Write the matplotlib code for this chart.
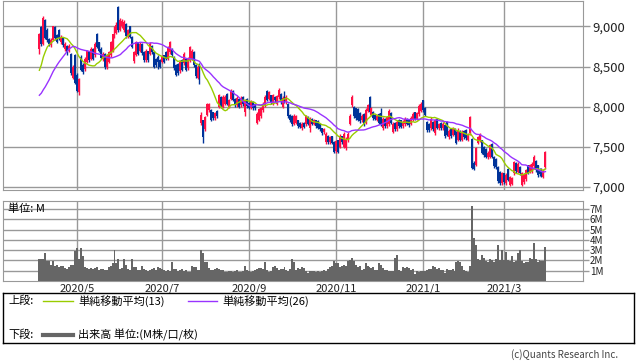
import numpy as np
import pandas as pd
import matplotlib
matplotlib.use('Agg')
import matplotlib.pyplot as plt

# 设置日文字体
plt.rcParams['font.family'] = ['Noto Sans CJK JP', 'DejaVu Sans']

# 日足数据 (2020/4/6 起的营业日)
open_ = [8720, 8990, 8780, 9080, 8960, 8840, 8770, 8830, 8990, 8890,
         8960, 8800, 8850, 8720, 8760, 8700, 8660, 8360, 8650, 8400,
         8180, 8620, 8520, 8470, 8560, 8690, 8600, 8720, 8640, 8900,
         8800, 8720, 8590, 8660, 8490, 8560, 8640, 8700, 8870, 8920,
         9240, 8960, 9000, 8950, 9030, 8870, 9000, 8870, 8570, 8650,
         8800, 8700, 8780, 8680, 8580, 8690, 8660, 8760, 8680, 8600,
         8620, 8580, 8560, 8640, 8680, 8600, 8680, 8720, 8620, 8520,
         8530, 8440, 8580, 8540, 8600, 8480, 8580, 8600, 8680, 8520,
         8360, 8530, 7800, 7830, 7720, 7900, 7960, 7960, 7930, 7860,
         7950, 8000, 8120, 8000, 8040, 8160, 8000, 8100, 8200, 8100,
         8020, 8100, 8020, 8120, 7930, 8100, 8050, 7990, 8060, 8030,
         7800, 7840, 7880, 7960, 8020, 8200, 8100, 8140, 8040, 8120,
         8040, 8120, 8160, 8000, 8180, 8060, 8040, 7900, 7890, 7790,
         7800, 7830, 7800, 7730, 7800, 7780, 7870, 7740, 7850, 7790,
         7830, 7820, 7780, 7730, 7680, 7560, 7640, 7560, 7630, 7560,
         7450, 7580, 7500, 7630, 7500, 7480, 7580, 7790, 8020, 8000,
         7980, 7970, 7920, 7830, 7910, 7800, 7950, 8120, 7900, 7940,
         7900, 7840, 7910, 7920, 7730, 7850, 7760, 7780, 7920, 7690,
         7800, 7720, 7840, 7830, 7760, 7780, 7850, 7830, 7790, 7840,
         7930, 7850, 7910, 7950, 8080, 7990, 7810, 7790, 7730, 7810,
         7670, 7850, 7730, 7800, 7730, 7770, 7810, 7620, 7720, 7650,
         7720, 7690, 7590, 7700, 7590, 7700, 7710, 7590, 7670, 7600,
         7300, 7280, 7550, 7580, 7580, 7500, 7470, 7370, 7380, 7540,
         7380, 7350, 7250, 7190, 7050, 7170, 7050, 7230, 7030, 7040,
         7170, 7300, 7190, 7250, 7030, 7060, 7100, 7270, 7190, 7200,
         7260, 7330, 7270, 7230, 7230, 7130, 7250]
high = [8920, 9010, 9130, 9090, 8980, 8860, 8850, 9010, 9000, 8910,
        8970, 8890, 8870, 8800, 8770, 8780, 8670, 8520, 8660, 8420,
        8360, 8640, 8540, 8620, 8710, 8700, 8740, 8730, 8800, 8920,
        8810, 8740, 8680, 8670, 8660, 8700, 8820, 8910, 9010, 9050,
        9250, 9100, 9090, 9080, 9040, 8970, 9010, 8880, 8700, 8820,
        8810, 8800, 8790, 8690, 8720, 8700, 8800, 8770, 8690, 8610,
        8640, 8590, 8640, 8650, 8690, 8760, 8820, 8730, 8630, 8530,
        8540, 8580, 8590, 8680, 8610, 8620, 8760, 8720, 8690, 8530,
        8520, 8540, 7930, 7840, 7880, 8050, 8050, 7970, 7940, 7940,
        7960, 8160, 8130, 8140, 8140, 8170, 8100, 8220, 8210, 8110,
        8130, 8110, 8130, 8130, 8100, 8110, 8060, 8080, 8070, 8040,
        7930, 7990, 8000, 8060, 8140, 8210, 8200, 8150, 8160, 8130,
        8150, 8230, 8170, 8130, 8190, 8140, 8050, 7910, 7900, 7910,
        7900, 7840, 7810, 7810, 7810, 7900, 7880, 7870, 7860, 7850,
        7840, 7830, 7790, 7740, 7740, 7680, 7650, 7640, 7640, 7570,
        7590, 7590, 7660, 7640, 7680, 7620, 7680, 7910, 8140, 8010,
        7990, 7980, 7930, 7910, 7920, 7980, 8040, 8130, 8000, 7950,
        7910, 7910, 7920, 7990, 7870, 7860, 7890, 7970, 7930, 7810,
        7810, 7830, 7850, 7840, 7830, 7870, 7860, 7840, 7880, 7930,
        7940, 7940, 8030, 8060, 8090, 8000, 7820, 7800, 7870, 7820,
        7850, 7860, 7800, 7810, 7810, 7780, 7820, 7720, 7730, 7750,
        7730, 7700, 7730, 7710, 7710, 7710, 7720, 7670, 7880, 7610,
        7320, 7500, 7640, 7670, 7590, 7510, 7480, 7450, 7540, 7550,
        7390, 7360, 7260, 7200, 7190, 7180, 7170, 7240, 7140, 7130,
        7330, 7310, 7310, 7260, 7190, 7180, 7230, 7280, 7290, 7310,
        7400, 7340, 7280, 7240, 7240, 7220, 7450]
low = [8660, 8760, 8770, 8840, 8800, 8760, 8750, 8820, 8830, 8790,
       8830, 8780, 8750, 8700, 8650, 8680, 8400, 8340, 8280, 8180,
       8140, 8440, 8410, 8450, 8540, 8560, 8580, 8580, 8620, 8730,
       8680, 8590, 8570, 8470, 8470, 8540, 8620, 8680, 8850, 8900,
       8930, 8940, 8980, 8930, 8860, 8850, 8850, 8730, 8550, 8630,
       8640, 8680, 8650, 8560, 8560, 8560, 8640, 8660, 8480, 8500,
       8470, 8480, 8540, 8540, 8580, 8580, 8660, 8620, 8460, 8380,
       8400, 8420, 8440, 8520, 8440, 8460, 8560, 8580, 8500, 8360,
       8340, 8280, 7770, 7550, 7700, 7880, 7940, 7820, 7840, 7840,
       7860, 7980, 7990, 7980, 8020, 8020, 7980, 8080, 8070, 8000,
       8000, 7980, 8000, 8010, 7890, 7990, 7970, 7970, 7960, 7960,
       7780, 7820, 7860, 7940, 8000, 8070, 8080, 8030, 8020, 8060,
       8020, 8100, 8040, 7980, 8050, 8040, 7860, 7810, 7760, 7770,
       7780, 7740, 7730, 7710, 7730, 7760, 7770, 7680, 7770, 7770,
       7740, 7720, 7700, 7650, 7660, 7540, 7540, 7540, 7530, 7420,
       7430, 7420, 7480, 7540, 7480, 7460, 7560, 7770, 8000, 7860,
       7840, 7820, 7800, 7810, 7760, 7780, 7930, 7920, 7880, 7840,
       7830, 7820, 7780, 7760, 7710, 7740, 7740, 7760, 7780, 7670,
       7700, 7700, 7740, 7730, 7740, 7760, 7770, 7750, 7770, 7820,
       7830, 7830, 7890, 7930, 7940, 7880, 7690, 7690, 7710, 7700,
       7650, 7720, 7710, 7710, 7710, 7610, 7630, 7600, 7610, 7630,
       7630, 7530, 7570, 7570, 7570, 7600, 7590, 7570, 7650, 7220,
       7210, 7260, 7530, 7560, 7410, 7380, 7360, 7350, 7360, 7360,
       7240, 7230, 7050, 7030, 7030, 7040, 7030, 7070, 7010, 7020,
       7150, 7180, 7170, 7150, 7010, 7040, 7080, 7160, 7170, 7180,
       7240, 7190, 7130, 7140, 7130, 7110, 7230]
close_ = [8900, 8780, 9110, 8860, 8830, 8780, 8830, 9000, 8850, 8810,
          8850, 8870, 8770, 8780, 8670, 8760, 8420, 8500, 8300, 8200,
          8350, 8460, 8430, 8600, 8690, 8580, 8720, 8600, 8780, 8750,
          8700, 8610, 8660, 8500, 8640, 8680, 8800, 8900, 8990, 9020,
          8950, 9080, 9070, 9060, 8880, 8950, 8870, 8750, 8680, 8800,
          8660, 8780, 8670, 8580, 8700, 8580, 8780, 8680, 8500, 8520,
          8560, 8500, 8620, 8560, 8600, 8740, 8800, 8640, 8480, 8400,
          8420, 8560, 8460, 8660, 8460, 8600, 8740, 8700, 8520, 8380,
          8500, 8300, 7900, 7620, 7870, 8040, 8030, 7840, 7860, 7920,
          7880, 8140, 8010, 8120, 8120, 8040, 8080, 8200, 8090, 8020,
          8110, 8000, 8110, 8030, 8090, 8010, 7990, 8060, 7980, 7980,
          7910, 7970, 7980, 8040, 8120, 8090, 8180, 8050, 8140, 8080,
          8130, 8210, 8060, 8110, 8070, 8120, 7880, 7830, 7780, 7890,
          7880, 7760, 7750, 7790, 7750, 7880, 7790, 7850, 7790, 7830,
          7760, 7740, 7720, 7670, 7720, 7660, 7560, 7620, 7550, 7440,
          7570, 7440, 7640, 7560, 7660, 7600, 7660, 7890, 8120, 7880,
          7860, 7840, 7820, 7890, 7780, 7960, 8020, 7940, 7980, 7860,
          7850, 7890, 7800, 7780, 7850, 7760, 7870, 7950, 7800, 7790,
          7720, 7810, 7760, 7750, 7810, 7850, 7790, 7770, 7860, 7910,
          7850, 7920, 8010, 8040, 7960, 7900, 7710, 7710, 7850, 7720,
          7830, 7740, 7780, 7730, 7790, 7630, 7650, 7700, 7630, 7730,
          7650, 7550, 7710, 7590, 7690, 7620, 7610, 7650, 7870, 7240,
          7230, 7490, 7620, 7650, 7430, 7400, 7380, 7430, 7520, 7380,
          7260, 7250, 7070, 7050, 7170, 7060, 7150, 7090, 7120, 7110,
          7310, 7200, 7290, 7170, 7170, 7160, 7210, 7180, 7270, 7290,
          7370, 7210, 7150, 7160, 7150, 7200, 7440]
# 移动平均用的前期收盘价 (图中不显示)
pre_close = [8100, 8000, 7900, 7700, 7600, 7500, 7650, 7800, 7750, 7900,
             8000, 7950, 7965, 7900, 7850, 8000, 8075, 8400, 8550, 8650,
             8700, 8600, 8750, 8800, 8730]
# 出来高 (单位: M)
volume = [2.1, 2.1, 2.1, 2.7, 1.9, 1.9, 1.6, 1.9, 1.5, 1.6,
          1.4, 1.5, 1.5, 1.3, 1.2, 1.4, 1.6, 1.6, 2.9, 3.2,
          2.1, 3.2, 2.4, 1.4, 1.3, 1.2, 1.3, 1.2, 1.3, 1.4,
          1.1, 1.2, 1.2, 1.1, 1.1, 1.4, 1.5, 1.7, 3.0, 1.7,
          2.1, 1.2, 1.3, 2.1, 1.6, 1.2, 1.1, 2.1, 1.4, 1.4,
          1.1, 1.1, 1.5, 1.2, 1.1, 1.0, 1.1, 1.2, 1.3, 1.1,
          1.4, 1.3, 1.2, 1.1, 1.0, 1.1, 1.0, 1.8, 1.2, 1.2,
          1.0, 1.1, 1.2, 1.0, 1.1, 0.9, 0.9, 1.5, 1.4, 1.4,
          1.1, 1.1, 3.0, 2.7, 1.8, 1.8, 1.3, 1.1, 1.1, 1.2,
          1.3, 1.2, 1.1, 1.1, 0.9, 0.9, 1.0, 1.0, 0.9, 1.0,
          1.1, 0.9, 0.9, 1.0, 1.5, 1.1, 1.0, 0.9, 1.0, 1.1,
          1.2, 1.3, 1.3, 1.2, 1.8, 1.1, 0.9, 1.0, 1.4, 1.5,
          1.3, 1.1, 1.2, 1.2, 1.4, 1.1, 1.0, 1.2, 2.1, 1.8,
          1.1, 1.3, 1.2, 1.4, 1.3, 1.0, 0.8, 1.0, 1.0, 1.0,
          0.9, 1.0, 0.9, 1.0, 1.1, 1.0, 1.2, 1.4, 1.5, 1.9,
          1.7, 1.7, 1.4, 1.5, 1.6, 1.5, 1.9, 2.0, 2.2, 1.9,
          1.6, 1.4, 1.5, 1.1, 1.2, 1.7, 1.5, 1.4, 1.3, 1.4,
          1.1, 1.1, 1.7, 1.6, 1.3, 1.1, 1.1, 1.0, 1.0, 1.0,
          2.2, 2.5, 1.1, 1.0, 1.4, 1.3, 1.4, 1.3, 1.1, 1.2,
          0.7, 1.0, 0.9, 1.0, 1.0, 1.0, 1.1, 1.2, 1.2, 1.5,
          1.4, 1.2, 1.3, 1.1, 1.1, 0.8, 1.2, 1.1, 1.1, 1.2,
          1.0, 1.8, 1.9, 1.8, 1.5, 1.1, 1.0, 0.9, 1.5, 7.3,
          4.2, 3.5, 2.1, 2.0, 2.5, 2.2, 1.9, 1.8, 2.1, 2.0,
          1.8, 2.1, 3.5, 2.0, 3.0, 2.0, 2.8, 2.0, 1.9, 2.4,
          1.8, 1.9, 2.7, 3.0, 1.9, 1.7, 1.8, 1.8, 2.2, 2.1,
          3.7, 2.1, 1.8, 2.0, 1.9, 1.9, 3.3]

price_ticks = [7000, 7500, 8000, 8500, 9000]
volume_ticks = [1, 2, 3, 4, 5, 6, 7]

RED = '#ff0f45'
BLUE = '#003399'
GRID = '#999999'

n = len(close_)
x = np.arange(n)
o = np.array(open_)
c = np.array(close_)
dates = pd.bdate_range('2020-04-06', periods=n)

# 单纯移动平均
all_close = pd.Series(pre_close + close_)
ma13 = all_close.rolling(13).mean().values[len(pre_close):]
ma26 = all_close.rolling(26).mean().values[len(pre_close):]

# 奇数月的第一个营业日作为刻度
tick_idx = [i for i in range(1, n) if dates[i].month != dates[i - 1].month and dates[i].month % 2 == 1]
tick_lab = [f"{dates[i].year}/{dates[i].month}" for i in tick_idx]

W, H = 638, 362
fig = plt.figure(figsize=(W / 100, H / 100), dpi=100)


def px_axes(l, t, r, b):
    return fig.add_axes([l / W, 1 - b / H, (r - l) / W, (b - t) / H])


xlim = (-18.4, 275)

# 上段: 蜡烛图
ax = px_axes(3, 0.5, 583, 190)
colors = np.where(c >= o, RED, BLUE)
ax.vlines(x, low, high, colors=colors, linewidth=1.0, zorder=2)
body = np.maximum(np.abs(c - o), 12)
ax.bar(x, body, bottom=np.minimum(o, c), width=1.0, color=colors, linewidth=0, zorder=3)
ax.plot(x, ma13, color='#99cc00', linewidth=1.0, zorder=4)
ax.plot(x, ma26, color='#9933ff', linewidth=1.0, zorder=4)
ax.set_xlim(*xlim)
ax.set_ylim(6963, 9323)
ax.set_xticks(tick_idx)
ax.set_xticklabels([])
ax.tick_params(axis='x', length=0)
ax.yaxis.tick_right()
ax.set_yticks(price_ticks)
ax.set_yticklabels([f"{v:,}" for v in price_ticks], fontsize=9.5, color='#222222')
ax.tick_params(axis='y', length=5, width=1, color=GRID, pad=2)
ax.grid(True, color=GRID, linewidth=1)
ax.set_axisbelow(True)
for s in ax.spines.values():
    s.set_color(GRID)

# 下段: 出来高
ax2 = px_axes(3, 201, 583, 281)
ax2.bar(x, volume, width=1.0, color='#666666', linewidth=0, zorder=3)
ax2.set_xlim(*xlim)
ax2.set_ylim(0, 7.77)
ax2.set_xticks(tick_idx)
ax2.set_xticklabels(tick_lab, fontsize=8, color='#222222')
ax2.tick_params(axis='x', length=0, pad=2)
ax2.yaxis.tick_right()
ax2.set_yticks(volume_ticks)
ax2.set_yticklabels([f"{v}M" for v in volume_ticks], fontsize=7, color='#222222')
ax2.tick_params(axis='y', length=4, width=1, color=GRID, pad=1)
ax2.grid(True, color=GRID, linewidth=1)
ax2.set_axisbelow(True)
for s in ax2.spines.values():
    s.set_color(GRID)
ax2.text(0.008, 0.9, "単位: M", transform=ax2.transAxes, fontsize=8, va='center', ha='left', zorder=5)

# 凡例框
axl = px_axes(3, 293, 634, 343)
axl.set_xlim(0, 631)
axl.set_ylim(50, 0)
axl.set_xticks([])
axl.set_yticks([])
for s in axl.spines.values():
    s.set_color('black')
    s.set_linewidth(1)
axl.text(5, 8, "上段:", fontsize=8, va='center')
axl.plot([40, 70], [8, 8], color='#99cc00', linewidth=1)
axl.text(75, 8, "単純移動平均(13)", fontsize=8, va='center')
axl.plot([185, 214], [8, 8], color='#9933ff', linewidth=1)
axl.text(219, 8, "単純移動平均(26)", fontsize=8, va='center')
axl.text(5, 42, "下段:", fontsize=8, va='center')
axl.plot([40, 70], [42, 42], color='#666666', linewidth=3)
axl.text(75, 42, "出来高 単位:(M株/口/枚)", fontsize=8, va='center')

fig.text(618 / W, 1 - 355 / H, "(c)Quants Research Inc.", ha='right', va='center', fontsize=7, color='#444444')

fig.savefig('out.png', dpi=100)
